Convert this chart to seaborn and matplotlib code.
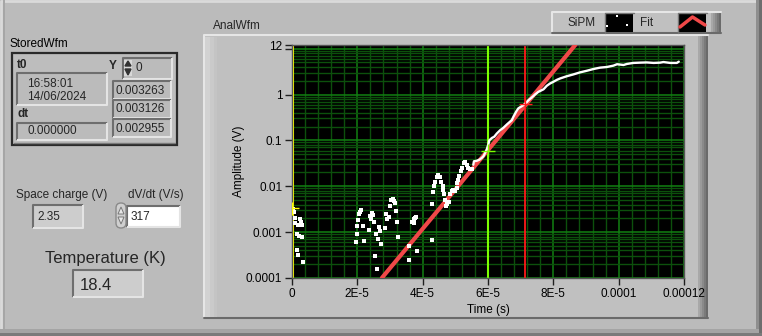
import matplotlib
matplotlib.use("Agg")
import matplotlib.pyplot as plt
import seaborn as sns
import numpy as np
import pandas as pd
from matplotlib.patches import Rectangle, Polygon, FancyBboxPatch
from matplotlib.ticker import MultipleLocator, LogLocator, NullFormatter

# ---------------- data ----------------
# SiPM scattered samples (time in microseconds, amplitude in V)
sipm_t_us = [0.0, 0.2, 0.4, 0.6, 0.9, 0.9, 1.9, 2.45, 2.75, 3.15, 1.45, 2.15, 2.95, 1.45, 1.75, 3.3,
             21.0, 20.8, 20.5, 20.3, 20.0, 20.0, 19.6, 22.1, 21.7, 23.5, 23.9, 24.4, 24.7, 24.1, 25.2,
             25.7, 26.3, 26.7, 27.0, 27.3, 25.4, 25.9, 28.6, 28.8, 29.2, 29.6, 30.0, 30.3, 30.8, 31.2,
             31.6, 31.9, 32.1, 32.4,
             36.7, 37.2, 37.4, 37.6, 37.9, 35.9, 35.7, 38.4, 42.8,
             42.9, 43.1, 43.5, 43.9, 44.3, 44.8, 45.3, 45.6, 46.2, 46.3, 46.6, 46.9, 47.2, 47.6, 48.2,
             48.4, 48.9, 49.4, 49.9, 50.4, 50.6, 50.9, 51.2, 51.7, 52.0, 52.5, 53.0, 53.5, 54.0, 54.5, 55.0]
sipm_v = [0.003263, 0.003126, 0.002955, 0.0028, 0.0020, 0.0016, 0.0014, 0.0019, 0.0017, 0.00145, 0.00093,
          0.00083, 0.00078, 0.00041, 0.00032, 0.00022,
          0.0031, 0.0028, 0.0025, 0.0018, 0.00135, 0.00089, 0.0006, 0.00063, 0.00135, 0.0011, 0.0023,
          0.0026, 0.0024, 0.0019, 0.0017, 0.00093, 0.00072, 0.0013, 0.00105, 0.00056, 0.0003, 0.00016,
          0.00123, 0.0025, 0.0019, 0.0021, 0.0038, 0.005, 0.0054, 0.0048, 0.0044, 0.0029, 0.00166, 0.00078,
          0.0017, 0.0019, 0.00155, 0.002, 0.0021, 0.00051, 0.00025, 0.00038, 0.00069,
          0.0042, 0.0076, 0.0103, 0.0126, 0.0162, 0.018, 0.0158, 0.0126, 0.0103, 0.0083, 0.0068, 0.005,
          0.0037, 0.0042, 0.0046, 0.0068, 0.008, 0.0083, 0.0079, 0.0091, 0.0117, 0.0138, 0.0169, 0.021,
          0.025, 0.032, 0.033, 0.0295, 0.025, 0.0235, 0.0235]
# SiPM dense part (contiguous samples)
curve_t_us = [55.5, 55.7, 56.6, 57.4, 58.1, 58.6, 59.1, 59.6, 60.1, 60.4, 61.2, 61.9, 62.7, 63.7, 64.7,
              65.8, 66.6, 67.3, 67.8, 68.6, 69.3, 70.4, 71.4, 72.4, 73.4, 74.4, 75.4, 77.0, 78.0, 79.0,
              80.0, 81.1, 82.1, 84.1, 86.2, 88.2, 90.3, 92.3, 94.3, 96.4, 98.4, 99.5, 101.5, 102.5,
              104.5, 106.6, 108.6, 110.7, 112.7, 113.7, 115.8, 117.8, 118.4]
curve_v = [0.0295, 0.035, 0.036, 0.038, 0.0415, 0.045, 0.053, 0.063, 0.081, 0.1, 0.113, 0.12, 0.141, 0.166,
           0.188, 0.223, 0.25, 0.276, 0.33, 0.42, 0.5, 0.56, 0.63, 0.75, 0.86, 1.0, 1.14, 1.3, 1.55, 1.74,
           1.89, 2.09, 2.24, 2.5, 2.75, 3.04, 3.3, 3.6, 3.85, 3.98, 4.26, 4.57, 4.4, 4.63, 4.88, 4.95, 5.0,
           4.88, 4.95, 5.1, 4.88, 4.88, 5.2]
# exponential fit (straight line on log axis)
fit_t = [2.75e-5, 8.67e-5]
fit_v = [1e-4, 12.0]
# cursors
cursor_t = [0.0, 6.0e-5, 7.14e-5]
cursor_v = [0.0033, 0.06, 0.61]
cursor_names = ["C0", "C1", "C2"]

x_ticks = [0, 2e-5, 4e-5, 6e-5, 8e-5, 1e-4, 1.2e-4]
x_tick_labels = ["0", "2E-5", "4E-5", "6E-5", "8E-5", "0.0001", "0.00012"]
y_ticks = [1e-4, 1e-3, 1e-2, 1e-1, 1, 10, 12]
y_tick_labels = ["0.0001", "0.001", "0.01", "0.1", "1", "", "12"]

stored_t0 = ["16:58:01", "14/06/2024"]
stored_dt = "0.000000"
stored_index = "0"
stored_y = ["0.003263", "0.003126", "0.002955"]
space_charge = "2.35"
dvdt = "317"
temperature = "18.4"

# ---------------- figure ----------------
W, H = 762, 336
BG = "#BBBBBB"
sns.set_theme(style="dark")
plt.rcParams["font.family"] = ["Liberation Sans", "DejaVu Sans"]

fig = plt.figure(figsize=(W / 100, H / 100), dpi=100, facecolor=BG)
bg = fig.add_axes([0, 0, 1, 1], zorder=0)
bg.set_xlim(0, W)
bg.set_ylim(H, 0)
bg.axis("off")
bg.set_facecolor(BG)


def rect(ax, x0, y0, x1, y1, color, z=1):
    ax.add_patch(Rectangle((x0, y0), x1 - x0, y1 - y0, facecolor=color, edgecolor="none", zorder=z))


def sunken(ax, x0, y0, x1, y1, fill, dark="#6E6E6E", light="#E4E4E4", lw=1.5, z=2):
    rect(ax, x0, y0, x1, y1, fill, z)
    ax.plot([x0, x0, x1], [y1, y0, y0], color=dark, lw=lw, zorder=z + 0.1, solid_capstyle="butt")
    ax.plot([x0, x1, x1], [y1, y1, y0], color=light, lw=lw, zorder=z + 0.1, solid_capstyle="butt")


def raised(ax, x0, y0, x1, y1, fill, z=1):
    rect(ax, x0, y0, x1, y1, fill, z)
    ax.plot([x0, x0, x1], [y1, y0, y0], color="#E6E6E6", lw=1.5, zorder=z + 0.1)
    shades = ["#A8A8A8", "#9A9A9A", "#8A8A8A", "#7A7A7A", "#6A6A6A"]
    for i, c in enumerate(shades):
        rect(ax, x1 - (len(shades) - i) * 2, y0 + 1, x1 - (len(shades) - i - 1) * 2, y1, c, z + 0.05)
    ax.plot([x0, x1], [y1, y1], color="#6A6A6A", lw=1.5, zorder=z + 0.1)


# outer panel bevel
bg.plot([1, 1, W - 1], [H - 1, 1, 1], color="#DADADA", lw=2, zorder=1)
rect(bg, W - 6, 0, W, H, "#8E8E8E", 1)
rect(bg, W - 3, 0, W, H, "#6E6E6E", 1.1)
rect(bg, 0, H - 7, W, H - 3, "#A4A4A4", 1)
rect(bg, 0, H - 3, W, H, "#7A7A7A", 1.1)
rect(bg, 3, 0, 5, H - 7, "#A6A6A6", 1)

FS = 8.5
# ---- StoredWfm cluster ----
bg.text(10, 44, "StoredWfm", fontsize=FS, va="center", ha="left", color="black", zorder=5)
bg.add_patch(Rectangle((12, 53), 165, 92, facecolor="#BDBDBD", edgecolor="#2A2A2A", lw=1.6, zorder=2))
bg.plot([14, 175], [143, 143], color="#7A7A7A", lw=1, zorder=2.2)
bg.text(17, 65, "t0", fontsize=FS, fontweight="bold", va="center", ha="left", zorder=5)
sunken(bg, 17, 73, 107, 105, "#BBBBBB")
bg.text(27, 84, stored_t0[0], fontsize=FS, va="center", ha="left", zorder=5)
bg.text(27, 97, stored_t0[1], fontsize=FS, va="center", ha="left", zorder=5)
bg.text(17, 114, "dt", fontsize=FS, fontweight="bold", va="center", ha="left", zorder=5)
sunken(bg, 17, 123, 107, 140, "#BBBBBB")
bg.text(27, 131, stored_dt, fontsize=FS, va="center", ha="left", zorder=5)
bg.text(113, 66, "Y", fontsize=FS, fontweight="bold", va="center", ha="center", zorder=5)
sunken(bg, 123, 58, 172, 79, "#BBBBBB")
rect(bg, 124, 60, 132, 76, "#D8D8D8", 3)
bg.add_patch(Polygon([[125, 66], [131, 66], [128, 61]], closed=True, color="#333333", zorder=3.5))
bg.add_patch(Polygon([[125, 69], [131, 69], [128, 75]], closed=True, color="#333333", zorder=3.5))
bg.text(136, 68, stored_index, fontsize=FS, va="center", ha="left", zorder=5)
for i, v in enumerate(stored_y):
    y0 = 81 + i * 19
    sunken(bg, 113, y0, 171, y0 + 18, "#BBBBBB")
    bg.text(116, y0 + 9.5, v, fontsize=FS, va="center", ha="left", zorder=5)

# ---- numeric indicators ----
bg.text(62, 195, "Space charge (V)", fontsize=FS, va="center", ha="center", zorder=5)
sunken(bg, 33, 205, 83, 228, "#CDCDCD")
bg.text(37, 217, space_charge, fontsize=FS, va="center", ha="left", zorder=5)
bg.text(156, 195, "dV/dt (V/s)", fontsize=FS, va="center", ha="center", zorder=5)
bg.add_patch(FancyBboxPatch((116, 203), 10, 25, boxstyle="round,pad=0,rounding_size=5",
                            facecolor="#CFCFCF", edgecolor="#8A8A8A", lw=1, zorder=3))
bg.add_patch(Polygon([[118, 214], [124, 214], [121, 207]], closed=True, facecolor="#E8E8E8",
                     edgecolor="#777777", lw=0.7, zorder=3.5))
bg.add_patch(Polygon([[118, 217], [124, 217], [121, 224]], closed=True, facecolor="#E8E8E8",
                     edgecolor="#777777", lw=0.7, zorder=3.5))
sunken(bg, 127, 206, 180, 227, "#FFFFFF")
bg.text(131, 216.5, dvdt, fontsize=FS, va="center", ha="left", zorder=5)
bg.text(105, 258, "Temperature (K)", fontsize=12, va="center", ha="center", zorder=5)
sunken(bg, 73, 270, 143, 297, "#CDCDCD")
bg.text(80, 285, temperature, fontsize=12, va="center", ha="left", zorder=5)

# ---- graph frame ----
bg.text(213, 26, "AnalWfm", fontsize=FS, va="center", ha="left", zorder=5)
raised(bg, 204, 35, 708, 318, "#C0C0C0", z=1)
rect(bg, 205, 37, 210, 317, "#D2D2D2", 1.2)
rect(bg, 210, 37, 214, 317, "#CACACA", 1.2)
rect(bg, 214, 37, 217, 317, "#C4C4C4", 1.2)

# ---- legend panel ----
raised(bg, 552, 12, 721, 33, "#C0C0C0", z=6)
bg.text(567, 22.5, "SiPM", fontsize=FS, va="center", ha="left", zorder=7)
rect(bg, 605, 13, 633, 32, "black", 7)
bg.plot([604.5, 604.5, 633.5], [32.5, 12.5, 12.5], color="#777777", lw=1, zorder=7.2)
for px, py in [(617, 16), (607, 26), (627, 25)]:
    rect(bg, px - 1, py - 1, px + 1, py + 1, "white", 7.5)
bg.text(640, 22.5, "Fit", fontsize=FS, va="center", ha="left", zorder=7)
rect(bg, 678, 13, 706, 32, "black", 7)
bg.plot([677.5, 677.5, 706.5], [32.5, 12.5, 12.5], color="#777777", lw=1, zorder=7.2)
bg.plot([680, 692.5, 705], [27, 17, 25], color="#F04848", lw=2.5, zorder=7.5)

# ---- plot axes ----
L, R, T, B = 292, 684, 45, 278
ax = fig.add_axes([L / W, 1 - B / H, (R - L) / W, (B - T) / H], zorder=2)
ax.set_facecolor("black")
ax.set_yscale("log")
ax.set_xlim(0, 1.2e-4)
ax.set_ylim(1e-4, 12)

ax.xaxis.set_minor_locator(MultipleLocator(4e-6))
ax.yaxis.set_minor_locator(LogLocator(base=10, subs=np.arange(2, 10)))
ax.yaxis.set_minor_formatter(NullFormatter())
ax.grid(True, which="minor", color="#0C500C", lw=1, zorder=0)
ax.grid(True, which="major", color="#118011", lw=1.1, zorder=0)
ax.set_axisbelow(True)

ax.set_xticks(x_ticks)
ax.set_xticklabels(x_tick_labels)
ax.set_yticks(y_ticks)
ax.set_yticklabels(y_tick_labels)
ax.tick_params(which="major", length=5, width=1, color="#202020", labelsize=FS, pad=2,
               labelcolor="black", left=True, bottom=True)
ax.tick_params(which="minor", length=0)
for s in ax.spines.values():
    s.set_color("#555555")
    s.set_linewidth(1)

# cursor lines
cursor_colors = ["#FFFF00", "#7CFF00", "#FF1A1A"]
cursor_lw = [2.2, 1.5, 1.3]
for t, c, lw in zip(cursor_t, cursor_colors, cursor_lw):
    ax.axvline(t, color=c, lw=lw, zorder=2.5)

# fit line
fit_df = pd.DataFrame({"t": fit_t, "v": fit_v})
sns.lineplot(data=fit_df, x="t", y="v", ax=ax, color="#F04848", lw=3, zorder=3, legend=False)

# SiPM data
sp_df = pd.DataFrame({"t": np.array(sipm_t_us) * 1e-6, "v": sipm_v})
cv_df = pd.DataFrame({"t": np.array(curve_t_us) * 1e-6, "v": curve_v})
sns.lineplot(data=cv_df, x="t", y="v", ax=ax, color="white", lw=1.7, sort=False,
             estimator=None, zorder=4, legend=False)
sns.scatterplot(data=sp_df, x="t", y="v", ax=ax, color="white", marker="s", s=5,
                linewidth=0, zorder=4, legend=False)

# cursor markers
cur_df = pd.DataFrame({"t": cursor_t, "v": cursor_v, "c": cursor_names})
sns.scatterplot(data=cur_df, x="t", y="v", hue="c", palette=cursor_colors, ax=ax, marker="+",
                s=90, linewidth=1, zorder=5, legend=False)
ax.set_xlabel("Time (s)", fontsize=FS, labelpad=3, color="black")
ax.set_ylabel("Amplitude (V)", fontsize=FS, labelpad=1, color="black")
ax.set_xlim(0, 1.2e-4)
ax.set_ylim(1e-4, 12)

fig.savefig("out.png", dpi=100, facecolor=BG)
